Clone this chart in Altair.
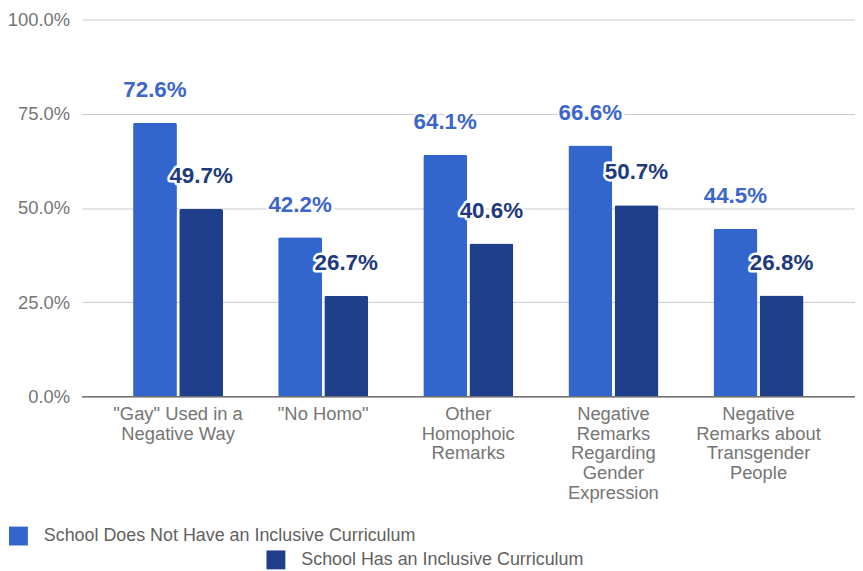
import altair as alt
import pandas as pd

categories = [
    '"Gay" Used in a\nNegative Way',
    '"No Homo"',
    'Other\nHomophoic\nRemarks',
    'Negative\nRemarks\nRegarding\nGender\nExpression',
    'Negative\nRemarks about\nTransgender\nPeople',
]
series = ["School Does Not Have an Inclusive Curriculum", "School Has an Inclusive Curriculum"]
no_curriculum = [72.6, 42.2, 64.1, 66.6, 44.5]
has_curriculum = [49.7, 26.7, 40.6, 50.7, 26.8]
bar_colors = ["#3366cc", "#1f3f8a"]
label_colors = ["#3d66c9", "#1d3a7c"]
y_ticks = [0, 25, 50, 75, 100]

rows = []
for i, c in enumerate(categories):
    rows.append({"category": c, "series": series[0], "value": no_curriculum[i]})
    rows.append({"category": c, "series": series[1], "value": has_curriculum[i]})
df = pd.DataFrame(rows)

FONT = "Liberation Sans"

x = alt.X(
    "category:N",
    sort=categories,
    scale=alt.Scale(paddingInner=0.38, paddingOuter=0.355),
    axis=alt.Axis(
        title=None, labelAngle=0, ticks=False, tickSize=0, labelPadding=8,
        labelExpr="split(datum.label, '\\n')", labelFontSize=18.5, labelLineHeight=20,
        labelColor="#757575", labelLimit=400, domainColor="#333333", domainWidth=1,
        grid=False,
    ),
)
xoff = alt.XOffset("series:N", sort=series,
                   scale=alt.Scale(domain=series, paddingInner=0.05, paddingOuter=0))
y = alt.Y(
    "value:Q",
    scale=alt.Scale(domain=[0, 100]),
    axis=alt.Axis(
        title=None, values=y_ticks, labelExpr="format(datum.value, '.1f') + '%'",
        ticks=False, tickSize=0, domain=False, labelPadding=12, labelFontSize=18.5,
        labelColor="#757575", gridColor="#cccccc", gridWidth=1,
    ),
)

base = alt.Chart(df)


def legend_for(lx, ly):
    return alt.Legend(
        orient="none", legendX=lx, legendY=ly, title=None, symbolType="square",
        symbolSize=361, labelFontSize=18, labelColor="#616161", labelOffset=16,
        padding=0, symbolStrokeWidth=0, symbolOpacity=1, labelLimit=600,
        labelFont=FONT,
    )


bars_a = base.transform_filter(alt.datum.series == series[0]).mark_bar(
    cornerRadiusTopLeft=2, cornerRadiusTopRight=2
).encode(
    x=x, xOffset=xoff, y=y,
    color=alt.Color("series:N", scale=alt.Scale(domain=[series[0]], range=[bar_colors[0]]),
                    legend=legend_for(-73, 510)),
)
bars_b = base.transform_filter(alt.datum.series == series[1]).mark_bar(
    cornerRadiusTopLeft=2, cornerRadiusTopRight=2
).encode(
    x=x, xOffset=xoff, y=y,
    color=alt.Color("series:N", scale=alt.Scale(domain=[series[1]], range=[bar_colors[1]]),
                    legend=legend_for(186, 534)),
)

text_base = base.transform_calculate(
    label="format(datum.value, '.1f') + '%'"
).encode(x=x, xOffset=xoff, y=y, text="label:N")

halo = text_base.mark_text(
    font=FONT, fontSize=22.5, fontWeight="bold", dy=-33, baseline="middle",
    stroke="white", strokeWidth=5, strokeJoin="round", fill="white",
)
labels = text_base.mark_text(
    font=FONT, fontSize=22.5, fontWeight="bold", dy=-33, baseline="middle",
).encode(
    color=alt.condition(alt.datum.series == series[0],
                        alt.value(label_colors[0]), alt.value(label_colors[1]))
)

chart = alt.layer(bars_a, bars_b, halo, labels).resolve_scale(
    color="independent"
).properties(
    width=778, height=379,
    autosize=alt.AutoSizeParams(type="none"),
    padding={"left": 74, "top": 10, "right": 0, "bottom": 173},
).configure(font=FONT).configure_view(stroke=None).configure_axis(
    labelFont=FONT
)

chart.save("out.html", embed_options={"renderer": "svg", "actions": False})
